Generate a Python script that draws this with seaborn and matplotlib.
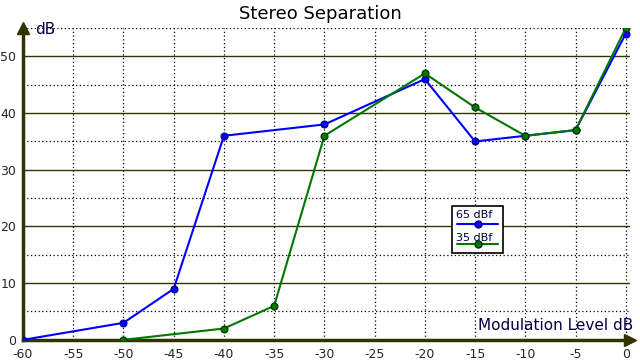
import pandas as pd
import matplotlib.pyplot as plt
import seaborn as sns
from matplotlib.lines import Line2D
from matplotlib.patches import Rectangle

sns.set_theme(style='white')
plt.rcParams['font.family'] = ['DejaVu Sans']
plt.rcParams['axes.unicode_minus'] = False

# data
x_65 = [-60, -50, -45, -40, -30, -20, -15, -10, -5, 0]
y_65 = [0, 3, 9, 36, 38, 46, 35, 36, 37, 54]
x_35 = [-50, -40, -35, -30, -20, -15, -10, -5, 0]
y_35 = [0, 2, 6, 36, 47, 41, 36, 37, 55]
series_names = ['65 dBf', '35 dBf']
x_ticks = list(range(-60, 1, 5))
y_ticks = list(range(0, 51, 10))

df = pd.concat([
    pd.DataFrame({'level': x_65, 'sep': y_65, 'series': series_names[0]}),
    pd.DataFrame({'level': x_35, 'sep': y_35, 'series': series_names[1]}),
])

axis_col = '#333300'
line_cols = ['#0000ff', '#007700']
edge_cols = ['#000080', '#003300']

fig = plt.figure(figsize=(6.4, 3.6), dpi=100)
ax = fig.add_axes([0.036, 0.056, 0.948, 0.866])

# grid: dotted every 5, solid every 10 on y
for v in range(-55, 1, 5):
    ax.axvline(v, color='black', ls=(0, (1, 2)), lw=0.9, zorder=0)
for v in range(5, 56, 10):
    ax.axhline(v, color='black', ls=(0, (1, 2)), lw=0.9, zorder=0)
for v in range(10, 51, 10):
    ax.axhline(v, color=axis_col, lw=1, zorder=0)

sns.lineplot(data=df, x='level', y='sep', hue='series', ax=ax,
             palette=line_cols, marker='o', markersize=5,
             linewidth=1.5, sort=False, zorder=3, legend=False)
for line, ec in zip(ax.get_lines()[-2:], edge_cols):
    line.set_markeredgecolor(ec)
    line.set_markeredgewidth(0.8)

ax.set_xlim(-60, 0.4)
ax.set_ylim(0, 55)
ax.set_xticks(x_ticks)
ax.set_yticks(y_ticks)
ax.tick_params(axis='x', length=0, labelsize=9, pad=6)
ax.tick_params(axis='y', length=0, labelsize=9, pad=5)
ax.set_xlabel('')
ax.set_ylabel('')
for s in ['top', 'right']:
    ax.spines[s].set_visible(False)
for s in ['left', 'bottom']:
    ax.spines[s].set_color(axis_col)
    ax.spines[s].set_linewidth(2.5)

# arrow heads on the axes
ax.plot([1.0], [0], marker='>', color=axis_col, markersize=8,
        transform=ax.transAxes, clip_on=False)
ax.plot([0], [1.0], marker='^', color=axis_col, markersize=8,
        transform=ax.transAxes, clip_on=False)

ax.text(0.02, 0.995, 'dB', transform=ax.transAxes, fontsize=11,
        color='#000044', va='center', ha='left')
ax.text(1.005, 0.045, 'Modulation Level dB', transform=ax.transAxes,
        fontsize=11, color='#000044', ha='right', va='center')
fig.suptitle('Stereo Separation', y=0.985, fontsize=13, color='black')

# legend box: text above a line sample with marker
fig.patches.append(Rectangle((0.706, 0.297), 0.080, 0.131, transform=fig.transFigure,
                             facecolor='white', edgecolor='black', lw=1.2, zorder=5))
for name, lc, ec, ty, ly in zip(series_names, line_cols, edge_cols,
                                [0.403, 0.340], [0.378, 0.322]):
    fig.text(0.713, ty, name, fontsize=8, color='#000044', va='center', ha='left', zorder=6)
    fig.lines.append(Line2D([0.714, 0.778], [ly, ly], transform=fig.transFigure,
                            color=lc, lw=1.5, zorder=6))
    fig.lines.append(Line2D([0.747], [ly], transform=fig.transFigure, marker='o',
                            markersize=5, color=lc, markeredgecolor=ec, zorder=7))

plt.savefig('out.png', dpi=100)
plt.close(fig)
